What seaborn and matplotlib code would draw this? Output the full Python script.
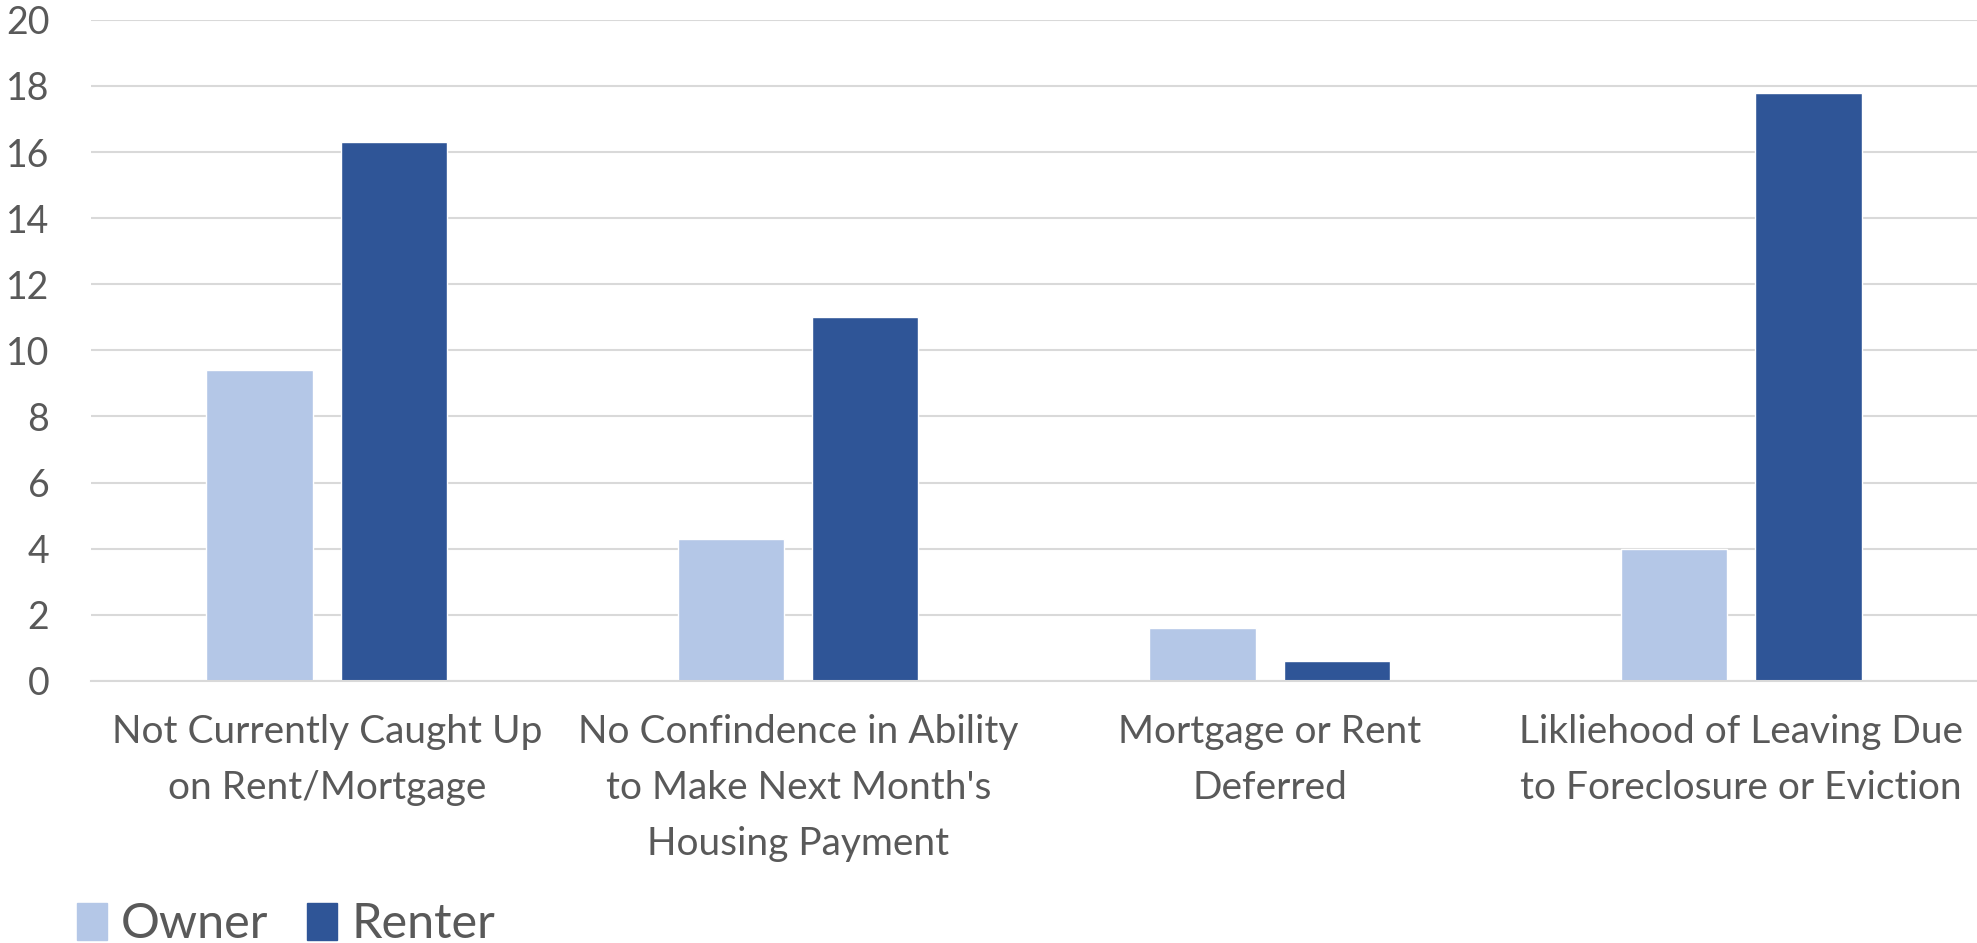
import pandas as pd
import matplotlib.pyplot as plt
import seaborn as sns

# Chart data
categories = [
    "Not Currently Caught Up\non Rent/Mortgage",
    "No Confindence in Ability\nto Make Next Month's\nHousing Payment",
    "Mortgage or Rent\nDeferred",
    "Likliehood of Leaving Due\nto Foreclosure or Eviction",
]
owner = [9.4, 4.3, 1.6, 4.0]
renter = [16.3, 11.0, 0.6, 17.8]
series = ["Owner", "Renter"]
y_ticks = [0, 2, 4, 6, 8, 10, 12, 14, 16, 18, 20]

COLORS = ["#B4C7E7", "#2F5597"]
TEXT = "#595959"
GRID = "#D9D9D9"

df = pd.DataFrame({
    "category": categories * 2,
    "value": owner + renter,
    "tenure": [series[0]] * len(owner) + [series[1]] * len(renter),
})

sns.set_theme(style="white")
plt.rcParams["font.family"] = ["Lato", "DejaVu Sans"]

fig = plt.figure(figsize=(19.77, 9.43), dpi=100)
ax = fig.add_axes([0.046, 0.278, 0.954, 0.701])

sns.barplot(data=df, x="category", y="value", hue="tenure", palette=COLORS,
            width=0.57, gap=0.21, ax=ax, legend=False, saturation=1)

ax.set_ylim(0, 20)
ax.set_yticks(y_ticks)
ax.set_xlim(-0.5, len(categories) - 0.5)
ax.yaxis.grid(True, color=GRID, linewidth=1.5)
ax.set_axisbelow(True)
for side in ["top", "right", "left"]:
    ax.spines[side].set_visible(False)
ax.spines["bottom"].set_color(GRID)
ax.spines["bottom"].set_linewidth(1.5)
ax.set_xlabel("")
ax.set_ylabel("")
ax.tick_params(axis="y", length=0, pad=30, labelsize=27, labelcolor=TEXT)
ax.tick_params(axis="x", length=0, pad=24, labelsize=28, labelcolor=TEXT)
for lbl in ax.get_xticklabels():
    lbl.set_linespacing(1.68)

handles = [plt.Rectangle((0, 0), 1, 1, color=c) for c in COLORS]
fig.legend(handles, series, loc="lower left", bbox_to_anchor=(0.017, -0.05),
           ncol=2, frameon=False, fontsize=35, labelcolor=TEXT,
           handlelength=0.6, handleheight=0.8, handletextpad=0.3, columnspacing=0.8)

fig.savefig("out.png", dpi=100)
